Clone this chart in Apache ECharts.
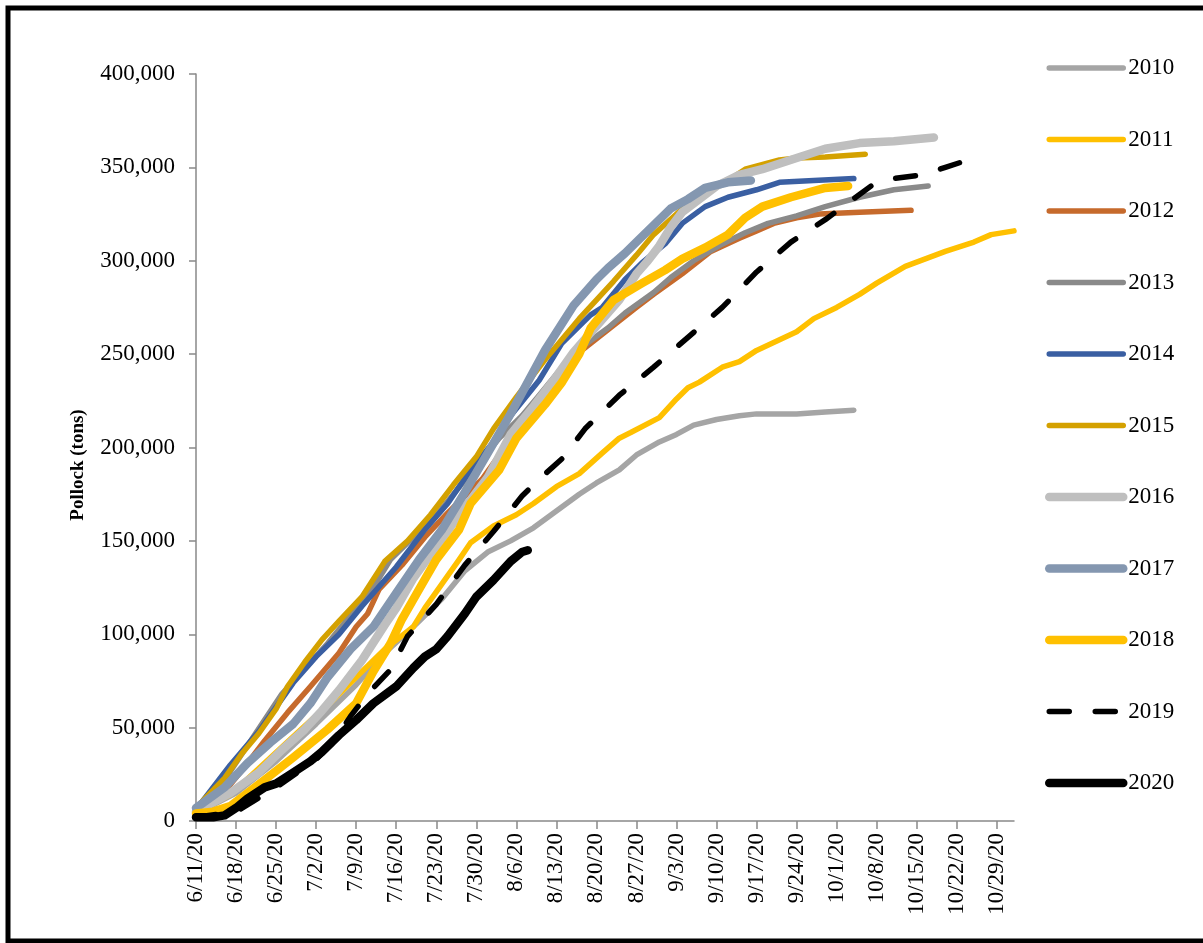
<!DOCTYPE html>
<html>
<head>
<meta charset="utf-8">
<script src="https://cdn.jsdelivr.net/npm/echarts@6/dist/echarts.min.js"></script>
<style>
  html, body { margin: 0; padding: 0; background: #fff; }
  #chart { width: 1203px; height: 943px; }
</style>
</head>
<body>
<div id="chart"></div>
<script>
// Cumulative pollock catch by season, as [days since 6/11, thousand tons].
const years = ['2010', '2011', '2012', '2013', '2014', '2015', '2016', '2017', '2018', '2019', '2020'];

const catch2010 = [[0,4],[7,15],[14,32],[21,52],[28,73],[33,90],[38,104],[43,119],[47,134],[51,144],[55,150],[59,157],[63,166],[67,175],[70,181],[74,188],[77,196],[81,203],[84,207],[87,212],[91,215],[95,217],[98,218],[105,218],[110,219],[115,220]];
const catch2011 = [[0,5],[6,14],[12,31],[18,48],[23,62],[28,77],[33,92],[38,104],[40,114],[43,127],[46,140],[48,149],[52,158],[56,164],[59,170],[63,179],[67,186],[71,197],[74,205],[76,208],[81,216],[84,226],[86,232],[88,235],[92,243],[95,246],[98,252],[105,262],[108,269],[112,275],[116,282],[119,288],[124,297],[131,305],[136,310],[139,314],[143,316]];
const catch2012 = [[0,5],[4,12],[8,27],[12,43],[16,58],[20,72],[25,90],[28,104],[30,111],[32,124],[36,137],[40,152],[44,165],[50,183],[57,213],[62,234],[67,251],[72,263],[77,275],[80,282],[85,293],[90,305],[95,312],[98,316],[101,320],[105,323],[109,325],[116,326],[125,327]];
const catch2013 = [[0,5],[5,22],[10,45],[15,68],[20,85],[23,95],[27,110],[31,125],[34,140],[37,149],[41,160],[45,175],[49,190],[53,205],[57,217],[60,228],[64,243],[68,255],[72,264],[75,272],[80,283],[83,291],[87,300],[92,309],[96,315],[100,320],[105,324],[110,329],[116,334],[122,338],[128,340]];
const catch2014 = [[0,6],[6,30],[11,48],[17,74],[21,88],[25,100],[29,115],[35,136],[40,156],[44,170],[48,188],[52,203],[55,217],[60,236],[64,256],[69,271],[71,275],[75,290],[78,299],[82,309],[85,320],[89,329],[93,334],[98,338],[102,342],[108,343],[115,344]];
const catch2015 = [[0,7],[5,23],[8,36],[11,47],[14,60],[16,72],[19,85],[22,97],[25,107],[29,120],[33,139],[37,150],[41,164],[45,180],[49,195],[52,210],[56,227],[61,247],[67,269],[73,289],[77,303],[80,314],[84,325],[88,336],[93,343],[96,349],[102,354],[105,355],[110,355.5],[117,357]];
const catch2016 = [[0,5],[6,15],[11,26],[15,38],[19,49],[22,59],[25,70],[29,86],[33,105],[35,114],[38,130],[42,147],[47,168],[51,184],[55,207],[59,222],[63,238],[66,251],[70,265],[74,279],[77,293],[79,300],[81,308],[83,318],[85,326],[88,333],[91,340],[95,346],[99,349],[105,355],[110,360],[116,363],[122,364],[129,366]];
const catch2017 = [[0,7],[5,18],[9,31],[13,42],[17,52],[20,63],[23,77],[27,92],[31,104],[35,122],[39,140],[43,156],[47,176],[51,197],[55,218],[58,235],[61,252],[66,276],[70,290],[72,296],[75,304],[77,310],[80,319],[83,328],[86,333],[89,339],[93,342],[97,343]];
const catch2018 = [[0,4],[3,5],[6,8],[12,22],[17,34],[23,49],[28,63],[31,80],[34,95],[36,108],[39,124],[42,140],[46,156],[48,170],[53,188],[56,205],[61,223],[64,235],[67,250],[69,264],[73,279],[78,288],[82,295],[85,301],[89,307],[93,314],[96,323],[99,329],[104,334],[110,339],[114,340]];
const catch2019 = [[0,2],[7,5],[14,18],[21,33],[24,42],[27,56],[30,68],[34,81],[37,99],[42,116],[47,137],[52,155],[57,174],[60,183],[64,194],[68,210],[74,228],[80,243],[86,259],[92,275],[98,294],[104,310],[110,322],[114,331],[118,340],[122,344],[127,346],[131,350],[135,354]];
const catch2020 = [[0,2],[3,2],[5,3],[7,7],[9,12],[12,18],[14,20],[17,26],[20,32],[22,37],[25,46],[28,54],[31,63],[35,72],[38,82],[40,88],[42,92],[44,99],[47,111],[49,120],[52,129],[55,139],[57,144],[58,145]];

// Weekly date ticks along the season.
const tickLabels = ['6/11/20','6/18/20','6/25/20','7/2/20','7/9/20','7/16/20','7/23/20','7/30/20','8/6/20','8/13/20','8/20/20','8/27/20','9/3/20','9/10/20','9/17/20','9/24/20','10/1/20','10/8/20','10/15/20','10/22/20','10/29/20'];
const yTicks = [0, 50000, 100000, 150000, 200000, 250000, 300000, 350000, 400000];

const seriesData = [catch2010, catch2011, catch2012, catch2013, catch2014, catch2015, catch2016, catch2017, catch2018, catch2019, catch2020];

const styles = {
  '2010': { color: '#A5A5A5', width: 5.5 },
  '2011': { color: '#FFC000', width: 5.5 },
  '2012': { color: '#C66A2C', width: 5.5 },
  '2013': { color: '#8A8A8A', width: 5.5 },
  '2014': { color: '#3A5FA2', width: 5.5 },
  '2015': { color: '#D4A100', width: 5.5 },
  '2016': { color: '#BFBFBF', width: 8.5 },
  '2017': { color: '#8497B0', width: 8.5 },
  '2018': { color: '#FFC000', width: 8.5 },
  '2019': { color: '#000000', width: 5.5, dash: [20, 26] },
  '2020': { color: '#000000', width: 8.5 }
};

const tickDays = tickLabels.map((_, i) => i * 7);
const dayToLabel = {};
tickDays.forEach((d, i) => { dayToLabel[d] = tickLabels[i]; });

const serif = 'Liberation Serif, Times New Roman, serif';

const series = years.map((yr, i) => {
  const s = styles[yr];
  return {
    name: yr,
    type: 'line',
    symbol: 'none',
    showSymbol: false,
    smooth: false,
    z: 2 + i,
    data: seriesData[i].map(p => [p[0], p[1] * 1000]),
    lineStyle: {
      color: s.color,
      width: s.width,
      type: s.dash ? s.dash : 'solid',
      cap: 'round',
      join: 'round'
    },
    itemStyle: { color: s.color },
    emphasis: { disabled: true }
  };
});

const chart = echarts.init(document.getElementById('chart'), null, { renderer: 'canvas' });
chart.setOption({
  animation: false,
  backgroundColor: '#ffffff',
  grid: { left: 196, right: 189, top: 74, bottom: 122, containLabel: false },
  legend: {
    orient: 'vertical',
    left: 1045,
    top: 56,
    padding: 0,
    itemWidth: 74,
    itemHeight: 14,
    itemGap: 47.5,
    data: years,
    // line-only keys: hide the marker the line legend draws in the middle
    itemStyle: { opacity: 0 },
    lineStyle: { width: 'inherit', type: 'inherit', cap: 'round' },
    textStyle: { fontFamily: serif, fontSize: 23, color: '#000', lineHeight: 24 },
    selectedMode: false
  },
  xAxis: {
    type: 'value',
    min: 0,
    max: 143,
    interval: 7,
    splitLine: { show: false },
    axisLine: { show: true, onZero: false, lineStyle: { color: '#898989', width: 1.5 } },
    axisTick: { show: true, length: 8, customValues: tickDays, lineStyle: { color: '#898989', width: 1.5 } },
    axisLabel: {
      customValues: tickDays,
      rotate: 90,
      margin: 12,
      fontFamily: serif,
      fontSize: 23,
      color: '#000',
      formatter: v => dayToLabel[v] || ''
    }
  },
  yAxis: {
    type: 'value',
    min: 0,
    max: 400000,
    interval: 50000,
    splitLine: { show: false },
    axisLine: { show: true, lineStyle: { color: '#898989', width: 1.5 } },
    axisTick: { show: true, length: 7, lineStyle: { color: '#898989', width: 1.5 } },
    axisLabel: {
      margin: 21,
      fontFamily: serif,
      fontSize: 23,
      color: '#000',
      formatter: v => yTicks.includes(v) ? v.toLocaleString('en-US') : ''
    }
  },
  graphic: [
    {
      type: 'text',
      x: 78,
      y: 465,
      rotation: Math.PI / 2,
      style: {
        text: 'Pollock (tons)',
        fontFamily: serif,
        fontWeight: 'bold',
        fontSize: 19,
        fill: '#000',
        textAlign: 'center',
        textVerticalAlign: 'middle'
      }
    },
    {
      type: 'rect',
      shape: { x: 8, y: 8, width: 1205, height: 933 },
      style: { fill: 'none', stroke: '#000', lineWidth: 5 },
      silent: true
    }
  ],
  series: series
});
</script>
</body>
</html>
